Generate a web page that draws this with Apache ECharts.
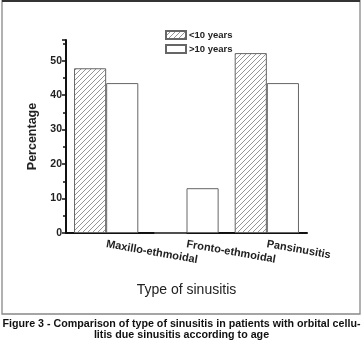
<!DOCTYPE html>
<html><head><meta charset="utf-8">
<script src="https://cdn.jsdelivr.net/npm/echarts@6/dist/echarts.min.js"></script>
<style>html,body{margin:0;padding:0;background:#fff}#c{width:363px;height:342px}</style>
</head><body><div id="c"></div>
<script>
const categories = ['Maxillo-ethmoidal', 'Fronto-ethmoidal', 'Pansinusitis'];
const under10 = [47.8, 0, 52.2];
const over10 = [43.5, 13.0, 43.5];
const seriesNames = ['<10 years', '>10 years'];
const yTicks = [0, 10, 20, 30, 40, 50];

function hatch() {
  const c = document.createElement('canvas');
  c.width = 5; c.height = 5;
  const g = c.getContext('2d');
  g.fillStyle = '#fff'; g.fillRect(0, 0, 5, 5);
  g.strokeStyle = '#8a8a8a'; g.lineWidth = 0.9;
  g.beginPath();
  g.moveTo(-1, 6); g.lineTo(6, -1);
  g.moveTo(-1, 1); g.lineTo(1, -1);
  g.moveTo(4, 6); g.lineTo(6, 4);
  g.stroke();
  return c;
}
const chart = echarts.init(document.getElementById('c'), null, {renderer: 'canvas'});
const F = 'Liberation Sans, Arial, sans-serif';
chart.setOption({
  animation: false,
  graphic: [
    {type: 'rect', shape: {x: 2, y: 0.5, width: 358, height: 313.5}, style: {fill: 'none', stroke: '#888', lineWidth: 1.3}},
    {type: 'line', shape: {x1: 2, y1: 1, x2: 360, y2: 1}, style: {stroke: '#333', lineWidth: 2}},
    {type: 'text', left: 'center', top: 319, style: {text: 'Figure 3 - Comparison of type of sinusitis in patients with orbital cellu-\nlitis due sinusitis according to age', textAlign: 'center', font: 'bold 10.7px ' + F, fill: '#111', lineHeight: 11}}
  ],
  legend: {
    orient: 'vertical', left: 160, top: 25, itemWidth: 20, itemHeight: 8, itemGap: 4,
    icon: 'rect',
    textStyle: {fontFamily: F, fontWeight: 'bold', fontSize: 9.5, color: '#222', padding: [0, 0, 0, -2]},
    data: seriesNames
  },
  grid: {left: 66, right: 56, top: 40, bottom: 109},
  xAxis: {
    type: 'category', data: categories,
    name: 'Type of sinusitis', nameLocation: 'middle', nameGap: 50,
    nameTextStyle: {fontFamily: F, fontSize: 14, color: '#222'},
    axisLine: {lineStyle: {color: '#111', width: 2}},
    axisTick: {alignWithLabel: true, length: 4, lineStyle: {color: '#111', width: 1.5}},
    axisLabel: {rotate: -10, margin: 11, interval: 0, hideOverlap: false, fontFamily: F, fontSize: 11, fontWeight: 'bold', color: '#222'}
  },
  yAxis: {
    type: 'value', min: 0, max: 56, interval: 10,
    name: 'Percentage', nameLocation: 'middle', nameGap: 19,
    nameTextStyle: {fontFamily: F, fontSize: 12.5, fontWeight: 'bold', color: '#222'},
    axisLine: {show: true, lineStyle: {color: '#111', width: 2}},
    axisTick: {show: true, length: 4, lineStyle: {color: '#111', width: 1.5}},
    minorTick: {show: true, splitNumber: 2, length: 3, lineStyle: {color: '#111', width: 1.5}},
    splitLine: {show: false},
    axisLabel: {fontFamily: F, fontSize: 10.5, fontWeight: 'bold', color: '#222', margin: 4,
      formatter: v => yTicks.includes(v) ? String(v) : ''}
  },
  series: [
    {name: seriesNames[0], type: 'bar', data: under10, barGap: '0%', barCategoryGap: '20%',
     itemStyle: {color: {image: hatch(), repeat: 'repeat'}, borderColor: '#666', borderWidth: 1}},
    {name: seriesNames[1], type: 'bar', data: over10,
     itemStyle: {color: '#fff', borderColor: '#666', borderWidth: 1}}
  ]
});
</script></body></html>
